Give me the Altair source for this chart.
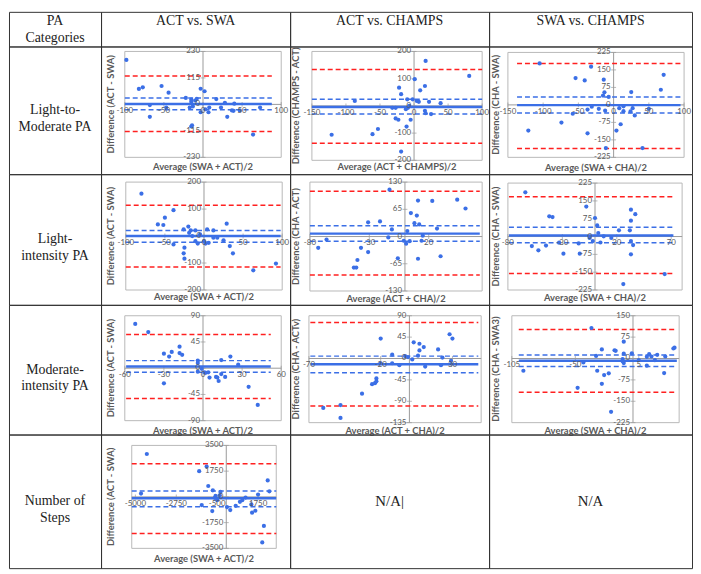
import altair as alt
import pandas as pd

# ---------------- data ----------------
COL_HEADERS = ["PA\nCategories", "ACT vs. SWA", "ACT vs. CHAMPS", "SWA vs. CHAMPS"]
ROW_LABELS = ["Light-to-\nModerate PA", "Light-\nintensity PA", "Moderate-\nintensity PA", "Number of\nSteps"]
NA_TEXT = ["N/A|", "N/A"]

# Panel A: Light-to-Moderate, ACT vs SWA
A_avg = [-98, -82, -77, -53, -44, -68, -68, -47, -22, -15, -15, -10, -8, -17, -13, -15, -14, -3, 2, -3, 3, 7, 8, 17, 23, 28, 31, 37, 39, 40, 47, 64, 73]
A_diff = [193, 67, 74, 80, 51, -3, -54, -14, 28, 21, 11, 17, 24, -14, -9, -96, -91, 68, 57, -34, -21, -34, -14, 23, -14, 7, -54, -26, -28, 3, -26, -131, -14]
A_stats = [2, 28, -23, 123, -118]          # mean, mean CI upper, mean CI lower, LoA upper, LoA lower
A_span = [-100, 88]
A_xdom, A_ydom = [-100, 100], [-230, 230]
A_xticks, A_yticks = [-100, -50, 0, 50, 100], [230, 115, 0, -115, -230]

# Panel B: Light-to-Moderate, ACT vs CHAMPS
B_avg = [17, 81, 1, 16, 9, -22, -19, -87, -10, -2, 4, 7, 22, 39, -32, -27, -12, -7, -9, 16, 17, 25, -27, -23, -5, -11, -53, -61, -121, -19]
B_diff = [165, 110, 98, 73, 57, 67, 43, 18, 24, 24, 18, 15, 15, 10, -7, -7, -12, 0, -7, -18, -27, -30, -46, -51, -51, -76, -85, -104, -106, -168]
B_stats = [-4, 24, -30, 134, -137]
B_span = [-150, 100]
B_xdom, B_ydom = [-150, 100], [-200, 200]
B_xticks, B_yticks = [-150, -100, -50, 0, 50, 100], [200, 100, 0, -100, -200]

# Panel C: Light-to-Moderate, SWA vs CHAMPS
C_avg = [-105, -32, -54, -41, -14, 71, 67, 25, -13, -15, -7, -58, -74, -37, -31, -21, -12, 8, 14, 14, 24, 30, 27, 50, 10, 4, -37, -121, -11, 41]
C_diff = [178, 164, 115, 105, 108, 129, 65, 55, 54, 40, 34, -38, -76, -20, -8, -17, -25, -14, -27, -6, -28, -45, -14, -17, -83, -110, -122, -110, -185, -185]
C_stats = [-1, 34, -35, 178, -187]
C_span = [-137, 95]
C_xdom, C_ydom = [-150, 100], [-225, 225]
C_xticks, C_yticks = [-150, -100, -50, 0, 50, 100], [225, 150, 75, 0, -75, -150, -225]

# Panel D: Light-intensity, ACT vs SWA
D_avg = [-80, -39, -50, -59, -52, -20, -26, -17, -11, 4, 12, 29, -39, -25, -26, -25, -19, -15, -11, -8, -5, 0, 2, 6, 12, 17, 25, 33, 37, 63, 92]
D_diff = [157, 96, 68, 43, 41, 35, 25, 21, 21, 25, 21, 46, -31, -43, -64, -84, 12, 0, -19, -28, 6, -19, -28, -25, -6, -6, -16, -37, -64, -127, -102]
D_stats = [0, 21, -23, 114, -115]
D_span = [-100, 98]
D_xdom, D_ydom = [-100, 100], [-200, 200]
D_xticks, D_yticks = [-100, -50, 0, 50, 100], [200, 100, 0, -100, -200]

# Panel E: Light-intensity, ACT vs CHA
E_avg = [-13, 11, 23, 44, 51, 5, 10, -31, -21, 8, 12, 27, -11, 2, -66, -14, -1, 1, 4, 14, 15, -73, -37, -31, -6, 11, 30, -40, -43, -41]
E_diff = [112, 86, 85, 88, 67, 56, 50, 34, 36, 32, 29, 19, 17, 13, -7, -2, -10, -17, -11, -10, 2, -27, -27, -37, -52, -53, -47, -56, -74, -74]
E_stats = [7, 26, -11, 108, -92]
E_span = [-80, 63]
E_xdom, E_ydom = [-80, 65], [-130, 130]
E_xticks, E_yticks = [-80, -30, 20], [130, 65, 0, -65, -130]

# Panel F: Light-intensity, SWA vs CHA
F_avg = [-64, -8, -42, -39, 0, 33, 37, 33, 2, 22, 32, 3, 8, 15, -5, -58, -52, -45, -33, -29, -15, -14, -2, 5, 33, 35, 33, 26, 64]
F_diff = [186, 126, 85, 82, 78, 113, 94, 67, 47, 26, 26, 15, 1, -6, -6, -40, -58, -38, -26, -72, -29, -72, -19, -25, -19, -36, -75, -200, -158]
F_stats = [4, 39, -26, 168, -156]
F_span = [-79, 72]
F_xdom, F_ydom = [-80, 80], [-225, 225]
F_xticks, F_yticks = [-80, -30, 20, 70], [225, 150, 75, 0, -75, -150, -225]

# Panel G: Moderate-intensity, ACT vs SWA
G_avg = [-52, -42, -30, -26, -24, -18, -18, -16, -4, -4, 14, 21, 27, -30, -4, -1, 1, 2, 4, 5, 10, 11, 12, 14, 17, 35, 42]
G_diff = [76, 62, 25, 20, 28, 37, 26, 23, 13, 9, 14, 20, 6, -26, -6, -1, -7, -8, -7, -16, -15, -16, -22, -10, -15, -32, -63]
G_stats = [3, 13, -7, 58, -52]
G_span = [-59, 52]
G_xdom, G_ydom = [-60, 60], [-90, 90]
G_xticks, G_yticks = [-60, -30, 0, 30, 60], [90, 45, 0, -45, -90]

# Panel H: Moderate-intensity, ACT vs CHA
H_avg = [-20, -12, 3, 7, 10, 7, 6, 20, 28, 30, 23, 22, 29, 11, -3, -1, 2, -20, -12, -7, -23, -26, -24, -23, -33, -48, -60, -48]
H_diff = [42, 8, 34, 31, 24, 17, 6, 19, 51, 42, 2, -14, -5, -17, 5, 3, -2, -10, -10, -14, -42, -54, -52, -48, -74, -98, -104, -125]
H_stats = [-12, 5, -30, 76, -100]
H_span = [-69, 48]
H_xdom, H_ydom = [-70, 50], [-135, 90]
H_xticks, H_yticks = [-70, -20, 30], [90, 45, 0, -45, -90, -135]

# Panel I: Moderate-intensity, SWA vs CHA
I_avg = [-36, -8, -16, -15, -27, -32, -8, -1, -9, -9, -8, -43, -31, -25, -21, -27, -48, -19, -95, 5, 12, 14, 16, 21, 28, 19, 12, 27, 35, 36]
I_diff = [107, 59, 29, 27, 32, 9, 17, 18, -2, -10, -16, -14, -43, -58, -52, -89, -103, -187, -43, -6, 6, 15, 7, 13, 7, -6, -25, -51, 35, 38]
I_stats = [-8, 12, -28, 102, -118]
I_span = [-99, 38]
I_xdom, I_ydom = [-105, 40], [-225, 150]
I_xticks, I_yticks = [-105, -50, 5], [150, 75, 0, -75, -150, -225]

# Panel J: Number of steps, ACT vs SWA
J_avg = [-4370, -1080, -1490, -990, -740, -4690, -590, -630, -500, -320, -360, -1350, -770, 40, 220, 520, 750, 880, 1060, 1380, 1420, 1600, 1750, 2280, 2370, 2070, 1980]
J_diff = [2915, 2063, 1749, 740, 448, 224, 67, -67, -224, 336, 112, -560, -964, -695, -897, -605, -336, -224, -45, -515, -1076, -941, 157, 1121, 381, -1973, -3094]
J_stats = [-90, 400, -670, 2250, -2494]
J_span = [-5200, 2750]
J_xdom, J_ydom = [-5200, 2750], [-3500, 3500]
J_xticks, J_yticks = [-5000, -2750, -500, 1750], [3500, 1750, 0, -1750, -3500]

TITLES = {
    "A": ("Average (SWA + ACT)/2", "Difference (ACT - SWA)"),
    "B": ("Average (ACT + CHAMPS)/2", "Difference (CHAMPS - ACT)"),
    "C": ("Average (SWA + CHA)/2", "Difference (CHA - SWA)"),
    "D": ("Average (SWA + ACT)/2", "Difference (ACT - SWA)"),
    "E": ("Average (ACT + CHA)/2", "Difference (CHA - ACT)"),
    "F": ("Average (SWA + CHA)/2", "Difference (CHA - SWA)"),
    "G": ("Average (SWA + ACT)/2", "Difference (ACT - SWA)"),
    "H": ("Average (ACT + CHA)/2", "Difference (CHA - ACTv)"),
    "I": ("Average (SWA + CHA)/2", "Difference (CHA - SWA3)"),
    "J": ("Average (SWA + ACT)/2", "Difference (ACT - SWA)"),
}

PANELS = {
    "A": (A_avg, A_diff, A_stats, A_span, A_xdom, A_ydom, A_xticks, A_yticks),
    "B": (B_avg, B_diff, B_stats, B_span, B_xdom, B_ydom, B_xticks, B_yticks),
    "C": (C_avg, C_diff, C_stats, C_span, C_xdom, C_ydom, C_xticks, C_yticks),
    "D": (D_avg, D_diff, D_stats, D_span, D_xdom, D_ydom, D_xticks, D_yticks),
    "E": (E_avg, E_diff, E_stats, E_span, E_xdom, E_ydom, E_xticks, E_yticks),
    "F": (F_avg, F_diff, F_stats, F_span, F_xdom, F_ydom, F_xticks, F_yticks),
    "G": (G_avg, G_diff, G_stats, G_span, G_xdom, G_ydom, G_xticks, G_yticks),
    "H": (H_avg, H_diff, H_stats, H_span, H_xdom, H_ydom, H_xticks, H_yticks),
    "I": (I_avg, I_diff, I_stats, I_span, I_xdom, I_ydom, I_xticks, I_yticks),
    "J": (J_avg, J_diff, J_stats, J_span, J_xdom, J_ydom, J_xticks, J_yticks),
}

# ---------------- layout / style ----------------
COL_W = [93, 191, 201, 205]
ROW_H = [35, 129, 132, 131, 135]
# frame (x0, x1, y0, y1) inside cell, y-title x, x-title y
LAYOUT = {
    "A": ((24, 182, 5, 112), 10, 122),
    "B": ((22, 194, 5, 115), 6, 122),
    "C": ((19, 197, 6, 112), 7, 123),
    "D": ((25, 183, 8, 117), 10, 124),
    "E": ((20, 194, 8, 118), 6, 126),
    "F": ((19, 195, 9, 117), 7, 125),
    "G": ((24, 182, 11, 117), 10, 127),
    "H": ((19, 193, 11, 119), 6, 127),
    "I": ((23, 192, 11, 119), 7, 127),
    "J": ((31, 177, 11, 115), 10, 126),
}
BLUE = "#3b6fe6"
RED = "#ff2020"
FRAME = "#b8b8b8"
AXIS = "#9a9a9a"
LABEL = "#595959"
TFONT = "Liberation Serif"
PFONT = "Lato"


def text_cell(text, w, h, size=14):
    df = pd.DataFrame({"t": [text]})
    return alt.Chart(df).mark_text(
        font=TFONT, fontSize=size, color="#222222", lineBreak="\n", lineHeight=17,
        align="center", baseline="middle"
    ).encode(x=alt.value(w / 2), y=alt.value(h / 2), text="t:N").properties(width=w, height=h)


def header_cell(text, w, h):
    df = pd.DataFrame({"t": [text]})
    return alt.Chart(df).mark_text(
        font=TFONT, fontSize=14, color="#222222", lineBreak="\n", lineHeight=17,
        align="center", baseline="top"
    ).encode(x=alt.value(w / 2), y=alt.value(2), text="t:N").properties(width=w, height=h)


def panel(key, w, h):
    avg, diff, stats, span, xdom, ydom, xticks, yticks = PANELS[key]
    (fx0, fx1, fy0, fy1), ytx, xty = LAYOUT[key]
    xtitle, ytitle = TITLES[key]
    xs = alt.Scale(domain=xdom, range=[fx0, fx1], nice=False, zero=False)
    ys = alt.Scale(domain=ydom, range=[fy1, fy0], nice=False, zero=False)

    def X(f):
        return alt.X(f, type="quantitative", scale=xs, axis=None)

    def Y(f):
        return alt.Y(f, type="quantitative", scale=ys, axis=None)

    frame = alt.Chart(pd.DataFrame({"x": [xdom[0]], "x2": [xdom[1]], "y": [ydom[0]], "y2": [ydom[1]]})).mark_rect(
        fill="white", stroke=FRAME, strokeWidth=1
    ).encode(x=X("x"), x2="x2", y=Y("y"), y2="y2")

    vzero = alt.Chart(pd.DataFrame({"x": [0], "y": [ydom[0]], "y2": [ydom[1]]})).mark_rule(
        color=AXIS, strokeWidth=1
    ).encode(x=X("x"), y=Y("y"), y2="y2")
    hzero = alt.Chart(pd.DataFrame({"x": [xdom[0]], "x2": [xdom[1]], "y": [0]})).mark_rule(
        color=AXIS, strokeWidth=1
    ).encode(x=X("x"), x2="x2", y=Y("y"))

    ydf = pd.DataFrame({"x": [0] * len(yticks), "y": yticks, "t": [str(v) for v in yticks]})
    xdf = pd.DataFrame({"x": xticks, "y": [0] * len(xticks), "t": [str(v) for v in xticks]})
    yt_marks = alt.Chart(ydf).mark_tick(orient="horizontal", size=5, color=AXIS, thickness=1).encode(x=X("x"), y=Y("y"))
    xt_marks = alt.Chart(xdf).mark_tick(orient="vertical", size=5, color=AXIS, thickness=1).encode(x=X("x"), y=Y("y"))
    ylab = alt.Chart(ydf).mark_text(
        font=PFONT, fontSize=8, color=LABEL, align="right", baseline="middle", dx=-3
    ).encode(x=X("x"), y=Y("y"), text="t:N")
    xlab = alt.Chart(xdf).mark_text(
        font=PFONT, fontSize=8, color=LABEL, align="center", baseline="top", dy=3
    ).encode(x=X("x"), y=Y("y"), text="t:N")

    ldf = pd.DataFrame({"x": [span[0]] * 5, "x2": [span[1]] * 5, "y": stats,
                        "k": ["mean", "ci", "ci", "loa", "loa"]})
    mean_l = alt.Chart(ldf[ldf.k == "mean"]).mark_rule(color=BLUE, strokeWidth=2.5).encode(
        x=X("x"), x2="x2", y=Y("y"))
    ci_l = alt.Chart(ldf[ldf.k == "ci"]).mark_rule(color=BLUE, strokeWidth=1.5, strokeDash=[5, 3]).encode(
        x=X("x"), x2="x2", y=Y("y"))
    loa_l = alt.Chart(ldf[ldf.k == "loa"]).mark_rule(color=RED, strokeWidth=1.5, strokeDash=[5, 3]).encode(
        x=X("x"), x2="x2", y=Y("y"))

    pts = alt.Chart(pd.DataFrame({"x": avg, "y": diff})).mark_circle(
        size=18, color=BLUE, opacity=1
    ).encode(x=X("x"), y=Y("y"))

    tdf = pd.DataFrame({"xt": [xtitle], "yt": [ytitle]})
    xtitle_m = alt.Chart(tdf).mark_text(
        font=PFONT, fontSize=9.5, fontWeight="bold", color=LABEL, align="center", baseline="middle"
    ).encode(x=alt.value((fx0 + fx1) / 2), y=alt.value(xty), text="xt:N")
    ytitle_m = alt.Chart(tdf).mark_text(
        font=PFONT, fontSize=9.5, fontWeight="bold", color=LABEL, align="center", baseline="middle", angle=270
    ).encode(x=alt.value(ytx), y=alt.value((fy0 + fy1) / 2), text="yt:N")

    return alt.layer(frame, vzero, hzero, yt_marks, xt_marks, loa_l, ci_l, mean_l, pts,
                     ylab, xlab, xtitle_m, ytitle_m).properties(width=w, height=h)


cells = [header_cell(COL_HEADERS[i], COL_W[i], ROW_H[0]) for i in range(4)]
keys = [["A", "B", "C"], ["D", "E", "F"], ["G", "H", "I"], ["J", None, None]]
for r in range(4):
    h = ROW_H[r + 1]
    cells.append(text_cell(ROW_LABELS[r], COL_W[0], h))
    na_i = 0
    for c in range(3):
        k = keys[r][c]
        if k is None:
            cells.append(text_cell(NA_TEXT[na_i], COL_W[c + 1], h, size=15))
            na_i += 1
        else:
            cells.append(panel(k, COL_W[c + 1], h))

chart = alt.concat(*cells, columns=4, spacing=0, bounds="flush", align="each").properties(
    padding=0
).configure_view(stroke="#333333", strokeWidth=1)

chart.save("out.html", embed_options={"renderer": "svg", "actions": False})
